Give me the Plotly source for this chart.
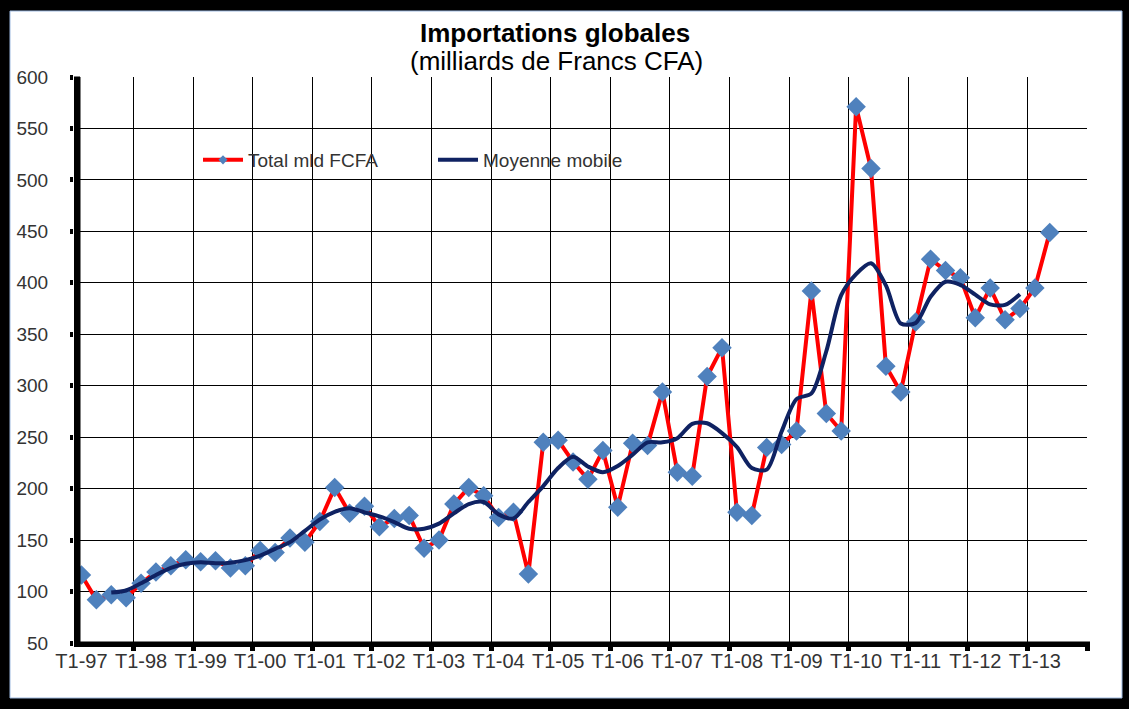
import plotly.graph_objects as go

# ---- data ----
years = ["97", "98", "99", "00", "01", "02", "03", "04", "05", "06",
         "07", "08", "09", "10", "11", "12", "13"]
quarters = [f"T{q}-{y}" for y in years for q in (1, 2, 3, 4)]  # 68 category slots

tick_labels = ["T1-97", "T1-98", "T1-99", "T1-00", "T1-01", "T1-02", "T1-03",
               "T1-04", "T1-05", "T1-06", "T1-07", "T1-08", "T1-09", "T1-10",
               "T1-11", "T1-12", "T1-13"]

total_mld = [116, 92, 97, 94,
             108, 119, 125, 131,
             129, 130, 123, 125,
             140, 138, 152, 148,
             168, 201, 176, 183,
             163, 171, 174, 142,
             150, 185, 201, 193,
             172, 177, 117, 245,
             247, 226, 209, 237,
             182, 244, 242, 294,
             216, 212, 309, 337,
             177, 174, 240, 243,
             256, 392, 273, 256,
             571, 511, 319, 294,
             362, 423, 412, 405,
             366, 395, 364, 375,
             395, 449]

moyenne_mobile = [99, 101, 108, 116, 123, 127, 128.5, 127.5, 128, 130.5,
                  135, 141.5, 148, 159, 170, 177.5, 181, 177, 173, 167.5,
                  161, 161, 166, 176, 185, 187, 175, 171, 187, 202.5,
                  220, 231, 221.5, 216, 222, 233, 245, 245, 249, 263,
                  263.5, 254, 240.5, 220, 218.5, 255.5, 287, 292.5, 333.5, 388,
                  408.5, 419, 397.5, 360.5, 361, 386.5, 401, 398, 388.5, 379,
                  378.5, 389]
ma_start = quarters.index("T3-97")

x_total = list(range(len(total_mld)))
x_ma = list(range(ma_start, ma_start + len(moyenne_mobile)))
tick_pos = [quarters.index(t) for t in tick_labels]
bound_pos = [p - 0.5 for p in tick_pos[1:]] + [len(quarters) - 0.5]

FONT = "Liberation Sans, Arial, sans-serif"
RED = "#FF0000"
BLUE = "#4F81BD"
NAVY = "#0F2262"

fig = go.Figure()

fig.add_trace(go.Scatter(
    x=x_total, y=total_mld, mode="lines+markers",
    line=dict(color=RED, width=4),
    marker=dict(symbol="diamond", size=15, color=BLUE),
    text=quarters[:len(total_mld)], showlegend=False,
    hovertemplate="%{text}: %{y}<extra></extra>"))

fig.add_trace(go.Scatter(
    x=x_ma, y=moyenne_mobile, mode="lines",
    line=dict(color=NAVY, width=4, shape="spline", smoothing=0.8),
    text=quarters[ma_start:ma_start + len(moyenne_mobile)], showlegend=False,
    hovertemplate="%{text}: %{y}<extra></extra>"))

# legend entries
fig.add_trace(go.Scatter(x=[None], y=[None], mode="lines+markers", name="Total mld FCFA",
                         line=dict(color=RED, width=4),
                         marker=dict(symbol="diamond", size=7, color=BLUE)))
fig.add_trace(go.Scatter(x=[None], y=[None], mode="lines", name="Moyenne mobile",
                         line=dict(color=NAVY, width=4)))

L, R, T, B = 74, 42, 77, 66
W, H = 1129, 709
pw, ph = W - L - R, H - T - B
q_px = pw / len(quarters)


def px_x(px):
    return (px - L) / pw


def px_y(py):
    return (H - B - py) / ph


fig.update_layout(
    width=W, height=H,
    margin=dict(l=L, r=R, t=T, b=B),
    paper_bgcolor="black",
    plot_bgcolor="white",
    font=dict(family=FONT, color="#333333"),
    showlegend=True,
    legend=dict(orientation="h", x=px_x(198), y=px_y(160), xanchor="left", yanchor="middle",
                bgcolor="rgba(0,0,0,0)", font=dict(size=19, color="#333333", family=FONT),
                itemwidth=40, tracegroupgap=0, entrywidth=180, entrywidthmode="pixels"),
    shapes=[
        dict(type="rect", xref="paper", yref="paper",
             x0=px_x(10), x1=px_x(1122), y0=px_y(698), y1=px_y(11),
             fillcolor="white", line=dict(color="#9DB9E0", width=1), layer="below"),
        # thick left axis line (inside plot edge)
        dict(type="rect", xref="x", yref="paper",
             x0=-0.5, x1=-0.5 + 6 / q_px, y0=0, y1=1,
             fillcolor="black", line=dict(color="black", width=1), layer="above"),
        # thick bottom axis line
        dict(type="rect", xref="paper", yref="paper",
             x0=px_x(74), x1=px_x(1090), y0=px_y(647), y1=px_y(641.5),
             fillcolor="black", line=dict(width=0), layer="above"),
    ],
    annotations=[
        dict(text="<b>Importations globales</b>", xref="paper", yref="paper",
             x=px_x(555), y=px_y(33), xanchor="center", yanchor="middle", showarrow=False,
             font=dict(size=26, color="black", family=FONT)),
        dict(text="(milliards de Francs CFA)", xref="paper", yref="paper",
             x=px_x(556), y=px_y(61), xanchor="center", yanchor="middle", showarrow=False,
             font=dict(size=26, color="black", family=FONT)),
    ],
)

fig.update_xaxes(
    range=[-0.5, len(quarters) - 0.5],
    tickmode="array", tickvals=tick_pos, ticktext=tick_labels,
    ticks="", showgrid=False, zeroline=False,
    tickfont=dict(size=20, color="#333333", family=FONT),
    showline=False, ticklabelstandoff=4,
    minor=dict(tickmode="array", tickvals=bound_pos, showgrid=True, gridcolor="black",
               gridwidth=1.3, ticks="outside", ticklen=7, tickwidth=5, tickcolor="black"),
)
fig.update_yaxes(
    range=[50, 600], tickmode="linear", tick0=50, dtick=50,
    showgrid=True, gridcolor="black", gridwidth=1.3, zeroline=False,
    ticks="outside", ticklen=3, tickwidth=5, tickcolor="black",
    tickfont=dict(size=19, color="#333333", family=FONT),
    showline=False, ticklabelstandoff=18,
)

fig.write_html("out.html", config={"displayModeBar": False},
               post_script="document.body.style.margin='0';document.body.style.overflow='hidden';")
